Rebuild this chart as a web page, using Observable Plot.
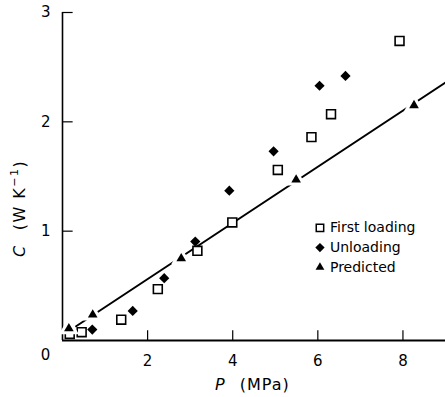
<!DOCTYPE html>
<html><head><meta charset="utf-8">
<script src="https://cdn.jsdelivr.net/npm/d3@7"></script>
<script src="https://cdn.jsdelivr.net/npm/@observablehq/plot@0.6"></script>
<style>
body{margin:0;background:#fff}
#chart{position:relative;width:445px;height:397px}
</style>
</head><body><div id="chart"></div>
<script>
// Data
const firstP = [0.17, 0.45, 1.38, 2.24, 3.17, 3.99, 5.06, 5.85, 6.31, 7.92];
const firstC = [0.06, 0.076, 0.19, 0.47, 0.82, 1.08, 1.56, 1.86, 2.07, 2.74];
const unloadP = [0.70, 1.65, 2.39, 3.12, 3.92, 4.96, 6.04, 6.65];
const unloadC = [0.10, 0.27, 0.57, 0.905, 1.37, 1.73, 2.33, 2.42];
const predP = [0.15, 0.71, 2.79, 5.49, 8.26];
const predC = [0.11, 0.235, 0.75, 1.47, 2.15];
const lineP = [0.32, 9.0];
const lineC = [0.13, 2.36];
const xTicks = [2, 4, 6, 8];
const yTicks = [1, 2, 3];
const legendLabels = ["First loading", "Unloading", "Predicted"];
const legendSymbols = ["square", "diamond2", "triangle2"];

const font = "'DejaVu Sans', sans-serif";
const rows = (P, C) => P.map((p, i) => ({P: p, C: C[i]}));
const first = rows(firstP, firstC);
const unload = rows(unloadP, unloadC);
const pred = rows(predP, predC);
const line = rows(lineP, lineC);

// legend placement (data units inside plot)
const legX = 6.05, legY0 = 1.03, legStep = 0.18;
const legend = legendLabels.map((label, i) => ({label, symbol: legendSymbols[i], y: legY0 - i * legStep}));

const plot = Plot.plot({
  width: 445, height: 397,
  marginLeft: 62, marginRight: 0, marginTop: 12, marginBottom: 57,
  x: {domain: [0, 9]},
  y: {domain: [0, 3]},
  symbol: {domain: legendSymbols, range: legendSymbols},
  style: {fontFamily: font, fontSize: "14px", background: "white", color: "black", overflow: "visible"},
  marks: [
    Plot.ruleY([0], {stroke: "black", strokeWidth: 1.8}),
    Plot.ruleX([0], {y1: 0, y2: 3, stroke: "black", strokeWidth: 1.6}),
    Plot.ruleX(xTicks, {y1: 0, y2: 0.09, stroke: "black", strokeWidth: 1.2}),
    Plot.ruleY(yTicks, {x1: 0, x2: 0.25, stroke: "black", strokeWidth: 1.2}),
    Plot.axisX(xTicks, {tickSize: 0, tickPadding: 15, fontSize: 15, label: null, tickFormat: d => String(d)}),
    Plot.axisY(yTicks, {tickSize: 0, tickPadding: 12, fontSize: 15, label: null, tickFormat: d => String(d)}),
    Plot.text([0], {x: 0, y: 0, text: () => "0", dx: -17, dy: 15, fontSize: 15}),
    Plot.line(line, {x: "P", y: "C", stroke: "black", strokeWidth: 2}),
    Plot.dot(first, {x: "P", y: "C", symbol: () => "square", r: 5, stroke: "black", strokeWidth: 1.6, fill: "white"}),
    Plot.dot(unload, {x: "P", y: "C", symbol: () => "diamond2", r: 4.6, fill: "black", stroke: "none"}),
    Plot.dot(pred, {x: "P", y: "C", symbol: () => "triangle2", r: 4.6, fill: "black", stroke: "white", strokeWidth: 6, paintOrder: "stroke"}),
    Plot.dot(legend, {x: () => legX, y: "y", symbol: "symbol", r: 4.2,
      fill: d => d.symbol === "square" ? "white" : "black",
      stroke: "black", strokeWidth: d => d.symbol === "square" ? 1.5 : 0}),
    Plot.text(legend, {x: () => legX, y: "y", text: "label", dx: 10, textAnchor: "start", fontSize: 14, letterSpacing: "0.6px"})
  ]
});
document.getElementById("chart").appendChild(plot);

// Axis titles with italic symbols
const svg = d3.select(plot);
const xl = svg.append("text").attr("x", 215).attr("y", 390).attr("text-anchor", "start")
  .attr("font-family", font).attr("font-size", 16).attr("fill", "black").attr("letter-spacing", "1px");
xl.append("tspan").attr("font-style", "italic").text("P");
xl.append("tspan").attr("dx", 14).text("(MPa)");

const yl = svg.append("text").attr("transform", "translate(25,257) rotate(-90)").attr("text-anchor", "start")
  .attr("font-family", font).attr("font-size", 16).attr("fill", "black").attr("letter-spacing", "1.5px");
yl.append("tspan").attr("font-style", "italic").text("C");
yl.append("tspan").attr("dx", 14).text("(W K");
yl.append("tspan").attr("font-size", 11).attr("dy", -7).text("−1");
yl.append("tspan").attr("dy", 7).text(")");
</script>
</body></html>
